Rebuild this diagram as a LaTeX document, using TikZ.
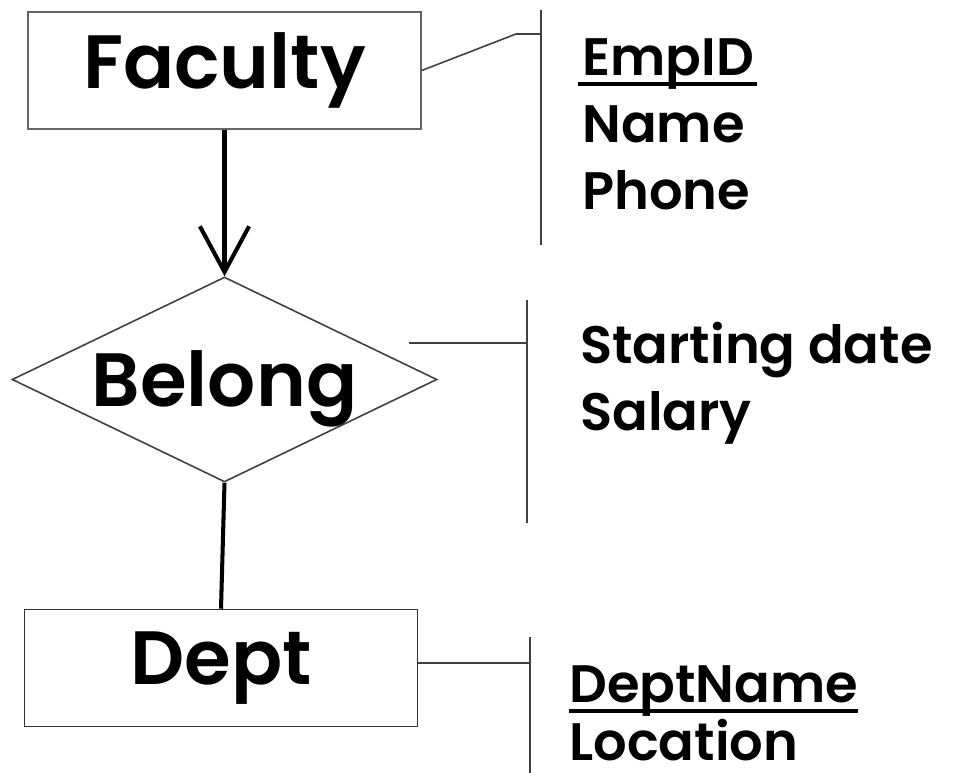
\documentclass[tikz,border=0pt]{standalone}
\usepackage{fontspec}
\setmainfont{Poppins SemiBold}
\usetikzlibrary{arrows.meta,calc,shapes.geometric,positioning}
\tikzset{
  entity/.style={draw=black!60, line width=0.9pt, minimum width=7.86cm, minimum height=2.34cm, inner sep=0pt, font=\fontsize{43}{52}\selectfont},
  relation/.style={diamond, draw=black!75, line width=0.9pt, minimum width=8.5cm, minimum height=4.1cm, inner sep=0pt, font=\fontsize{43}{52}\selectfont},
  attr/.style={anchor=base west, inner sep=0pt, font=\fontsize{30}{40}\selectfont},
  bar/.style={draw=black!75, line width=0.9pt},
  link/.style={line width=2.3pt},
  keyline/.style={line width=2.6pt},
}
\newcommand{\flatlabel}[1]{\makebox[0pt]{\raisebox{-0.36em}[0pt][0pt]{#1}}}
\begin{document}
\begin{tikzpicture}[x=0.02cm, y=-0.02cm]
\useasboundingbox (0,0) rectangle (953,773);
% entities and relationship
\node[entity] (fac) at (224.5,70.5) {Faculty};
\node[relation] (bel) at (224.5,379.5) {\flatlabel{Belong}};
\node[entity, draw=black!80] (dep) at (221,668) {Dept};
\draw[link, -{Straight Barb[length=26pt, width=28pt, line width=2.3pt]}] (fac.south) -- (bel.north);
\draw[link] (bel.south) -- (dep.north);
% attribute lists
\node[attr] (emp) at (582,76) {EmpID};
\node[attr] (name) at (582,143) {Name};
\node[attr] (phone) at (582,210) {Phone};
\node[attr] (start) at (580,363) {Starting date};
\node[attr] (sal) at (580,430) {Salary};
\node[attr] (dname) at (569,702) {DeptName};
\node[attr] (loc) at (569,760) {Location};
\draw[keyline] ($(emp.base west)+(-4,8)$) -- ($(emp.base east)+(3,8)$);
\draw[keyline] ($(dname.base west)+(0,9)$) -- ($(dname.base east)+(0,9)$);
% brackets
\draw[bar] (fac.east) -- (516,34) coordinate(K) -- (541,34);
\draw[bar] (541,10) -- (541,245);
\draw[bar] (409,343) -- (527,343);
\draw[bar] (527,300) -- (527,523);
\draw[bar] ($(dep.east)+(0,-5)$) -- ++(113,0) coordinate(L);
\draw[bar] (530,637) -- (530,773);
\end{tikzpicture}
\end{document}
